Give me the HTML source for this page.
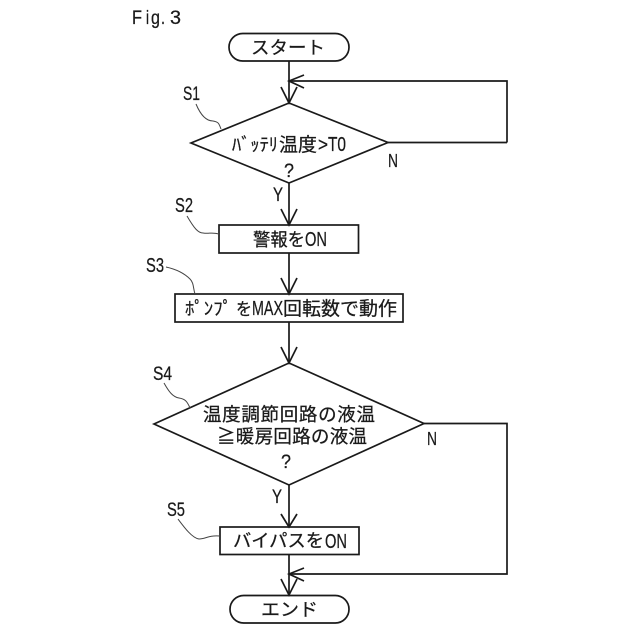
<!DOCTYPE html>
<html>
<head>
<meta charset="utf-8">
<style>
html,body{margin:0;padding:0;background:#fff;width:640px;height:640px;overflow:hidden}
svg{display:block}
text{font-family:"Liberation Sans","Noto Sans CJK JP",sans-serif;fill:#1a1a1a;stroke:#1a1a1a;stroke-width:.25}
.l{fill:none;stroke:#1a1a1a;stroke-width:1.7}
.t{fill:none;stroke:#444;stroke-width:1}
</style>
</head>
<body>
<svg width="640" height="640" viewBox="0 0 640 640" xmlns="http://www.w3.org/2000/svg">
<text x="132" y="24" font-size="19" textLength="10" lengthAdjust="spacingAndGlyphs">F</text>
<text x="146" y="24" font-size="19" textLength="3" lengthAdjust="spacingAndGlyphs">i</text>
<text x="151" y="24" font-size="19" textLength="9" lengthAdjust="spacingAndGlyphs">g</text>
<text x="161" y="24" font-size="19" textLength="4" lengthAdjust="spacingAndGlyphs">.</text>
<text x="170" y="24" font-size="19" textLength="11" lengthAdjust="spacingAndGlyphs">3</text>

<rect class="l" x="229" y="33.500" width="120" height="27.500" rx="13.700"/>
<text x="251" y="54" font-size="18" textLength="74" lengthAdjust="spacingAndGlyphs">スタート</text>

<path class="l" d="M289 61V103"/>
<path class="l" d="M281 87L289 103L297 87"/>
<path class="l" d="M507 142.500V81H289"/>
<path class="l" d="M304 75L289 81L304 88"/>
<path class="l" d="M388 142.500H507"/>

<polygon class="l" points="289,103 388,142.500 289,183 191,143"/>
<text x="232" y="151" font-size="18" textLength="46" lengthAdjust="spacingAndGlyphs">ﾊﾞｯﾃﾘ</text>
<text x="279" y="151" font-size="19" textLength="38" lengthAdjust="spacingAndGlyphs">温度</text>
<text x="318" y="151" font-size="19" textLength="10" lengthAdjust="spacingAndGlyphs">&gt;</text>
<text x="328" y="151" font-size="20" textLength="18" lengthAdjust="spacingAndGlyphs">T0</text>
<text x="284" y="177" font-size="19" textLength="10" lengthAdjust="spacingAndGlyphs">?</text>
<text x="388" y="167" font-size="18" textLength="10" lengthAdjust="spacingAndGlyphs">N</text>
<text x="273" y="201" font-size="19" textLength="10" lengthAdjust="spacingAndGlyphs">Y</text>

<path class="l" d="M289 183V225"/>
<path class="l" d="M281 209L289 225L297 209"/>
<rect class="l" x="219" y="225" width="139.500" height="28"/>
<text x="253" y="246" font-size="18" textLength="52" lengthAdjust="spacingAndGlyphs">警報を</text>
<text x="305" y="246" font-size="20" textLength="22" lengthAdjust="spacingAndGlyphs">ON</text>

<path class="l" d="M289 253V294"/>
<path class="l" d="M281 278L289 294L297 278"/>
<rect class="l" x="175" y="294" width="228" height="28"/>
<text x="185" y="315" font-size="18" textLength="47" lengthAdjust="spacingAndGlyphs">ﾎﾟﾝﾌﾟ</text>
<text x="236" y="315" font-size="17" textLength="16" lengthAdjust="spacingAndGlyphs">を</text>
<text x="252" y="315" font-size="20" textLength="31" lengthAdjust="spacingAndGlyphs">MAX</text>
<text x="283" y="315" font-size="19" textLength="114" lengthAdjust="spacing">回転数で動作</text>

<path class="l" d="M289 322V363"/>
<path class="l" d="M281 347L289 363L297 347"/>

<polygon class="l" points="289,363 424,423.500 289,485 154,424"/>
<text x="203" y="421" font-size="18.500" textLength="172" lengthAdjust="spacing">温度調節回路の液温</text>
<text x="217" y="443" font-size="18.500" textLength="150" lengthAdjust="spacing">≧暖房回路の液温</text>
<text x="281" y="468" font-size="19" textLength="10" lengthAdjust="spacingAndGlyphs">?</text>
<text x="427" y="445" font-size="18" textLength="10" lengthAdjust="spacingAndGlyphs">N</text>
<text x="272" y="503" font-size="19" textLength="10" lengthAdjust="spacingAndGlyphs">Y</text>

<path class="l" d="M424 423.500H507V574H289"/>
<path class="l" d="M289 485V527"/>
<path class="l" d="M281 514L289 527L297 514"/>
<rect class="l" x="220" y="527" width="139" height="27.500"/>
<text x="233" y="547" font-size="18" textLength="91" lengthAdjust="spacingAndGlyphs">バイパスを</text>
<text x="325" y="548" font-size="20" textLength="22" lengthAdjust="spacingAndGlyphs">ON</text>

<path class="l" d="M289 554.500V595"/>
<path class="l" d="M281 579L289 595L297 579"/>
<path class="l" d="M304 568L289 574L304 581"/>

<rect class="l" x="230" y="595.500" width="119" height="27.500" rx="13.700"/>
<text x="261" y="616" font-size="18" textLength="57" lengthAdjust="spacingAndGlyphs">エンド</text>

<text x="183" y="100" font-size="19" textLength="17" lengthAdjust="spacingAndGlyphs">S1</text>
<path class="t" d="M196 104C201 116 207 121 213 121C219 122 219 124 221 129"/>
<text x="175" y="212" font-size="20" textLength="18" lengthAdjust="spacingAndGlyphs">S2</text>
<path class="t" d="M187 216C194 228 198 233 203 233C209 234 212 232 219 234"/>
<text x="146" y="272" font-size="20" textLength="18" lengthAdjust="spacingAndGlyphs">S3</text>
<path class="t" d="M166 267C175 269 184 273 190 279C194 283 193 288 195 294"/>
<text x="153" y="380" font-size="19" textLength="19" lengthAdjust="spacingAndGlyphs">S4</text>
<path class="t" d="M164 383C169 392 173 397 179 398C185 399 187 401 190 408"/>
<text x="167" y="516" font-size="19" textLength="18" lengthAdjust="spacingAndGlyphs">S5</text>
<path class="t" d="M178 519C184 527 192 538 199 539C206 539 208 535 220 536"/>
</svg>
</body>
</html>
